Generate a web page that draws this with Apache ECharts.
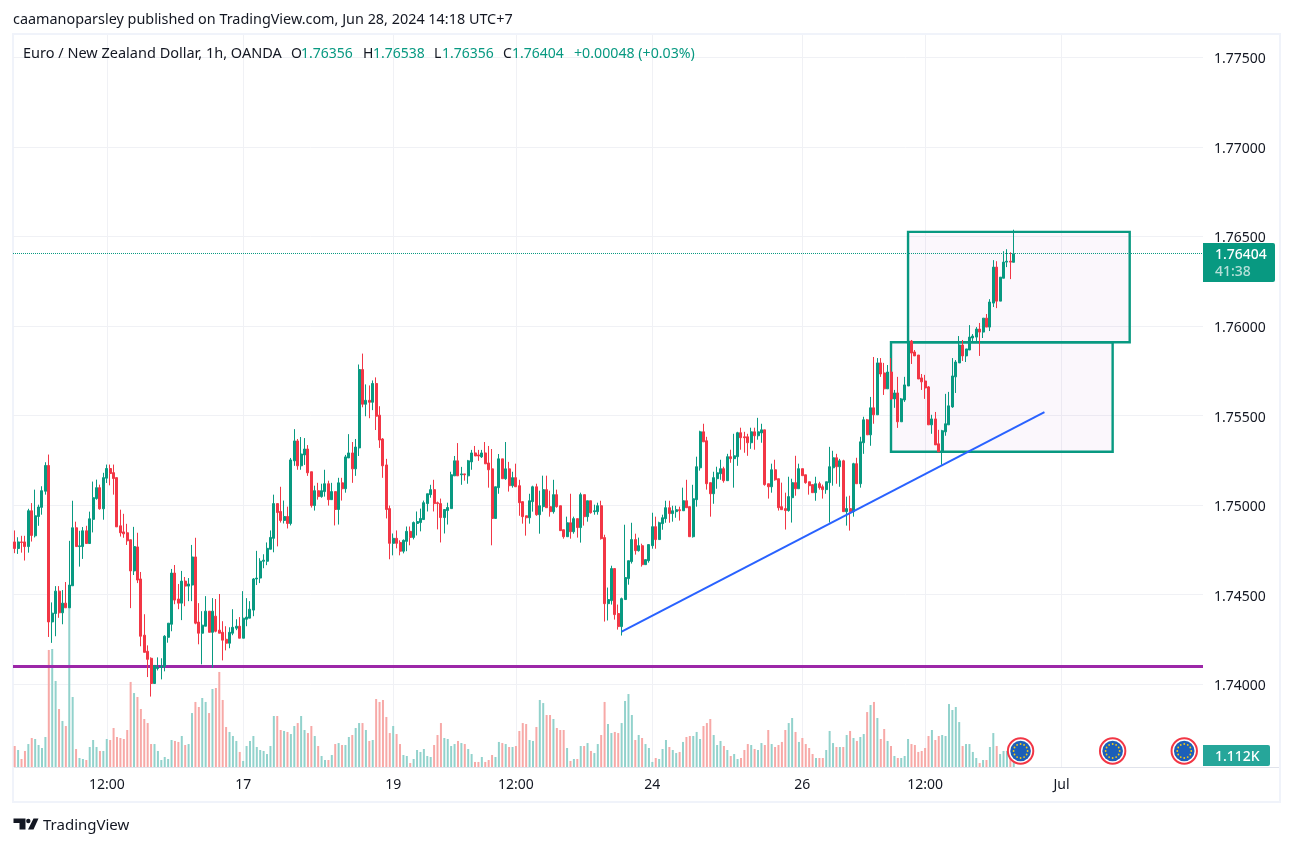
<!DOCTYPE html>
<html>
<head>
<meta charset="utf-8">
<title>EURNZD 1h</title>
<script src="https://cdn.jsdelivr.net/npm/echarts@6/dist/echarts.min.js"></script>
<style>
  html, body { margin: 0; padding: 0; background: #fff; }
  #main { width: 1293px; height: 846px; }
</style>
</head>
<body>
<div id="main"></div>
<script>
// hourly candles
const opens = [
  1.74794,1.74757,1.74794,1.74794,1.74768,1.74968,1.74828,1.74936,1.74987,1.75077,
  1.75221,1.74347,1.74394,1.74519,1.74398,1.74452,1.74426,1.74549,1.74873,1.74768,
  1.74768,1.74856,1.74785,1.74920,1.75036,1.75097,1.74979,1.75150,1.75204,1.75181,
  1.75153,1.74884,1.74850,1.74845,1.74806,1.74632,1.74766,1.74587,1.74273,1.74183,
  1.74144,1.74003,1.74087,1.74093,1.74099,1.74261,1.74334,1.74620,1.74475,1.74452,
  1.74575,1.74547,1.74553,1.74710,1.74346,1.74284,1.74323,1.74407,1.74289,1.74379,
  1.74301,1.74289,1.74250,1.74228,1.74284,1.74312,1.74323,1.74256,1.74362,1.74368,1.74413,1.74587,
  1.74592,1.74686,1.74686,1.74753,1.74814,1.75008,1.74964,1.74914,
  1.74936,1.74897,1.75247,1.75358,1.75219,1.75280,1.75313,1.75186,1.74997,1.75080,
  1.75047,1.75075,1.75119,1.75030,1.75075,1.74975,1.75124,1.75091,1.75263,1.75291,
  1.75202,1.75319,1.75757,1.75563,1.75585,1.75574,1.75679,1.75502,1.75369,1.75224,
  1.74980,1.74786,1.74814,1.74791,1.74742,1.74797,1.74853,1.74819,1.74897,1.74902,
  1.74919,1.75008,1.75058,1.75086,1.75013,1.75008,1.74930,1.74969,1.74980,1.75163,
  1.75247,1.75169,1.75174,1.75163,1.75241,1.75291,1.75280,1.75269,1.75291,1.75235,
  1.75202,1.74925,1.75097,1.75258,1.75147,1.75202,
  1.75108,1.75153,1.75108,1.75019,1.74940,1.74929,1.75019,1.75102,1.74946,1.74991,
  1.75086,1.74991,1.74963,1.75058,1.74996,1.74862,1.74823,1.74901,1.74851,1.74924,
  1.74874,1.75058,1.74935,1.75024,1.74963,1.74963,1.74996,1.74818,1.74449,1.74466,
  1.74645,1.74394,1.74321,1.74472,1.74589,1.74684,1.74807,1.74745,1.74773,1.74667,
  1.74689,1.74773,1.74879,1.74807,1.74896,1.74924,1.74985,1.74952,1.74963,1.74974,
  1.74968,1.75024,1.74991,1.74823,1.75030,1.75208,1.75409,1.75359,1.75125,1.75063,
  1.75147,1.75175,1.75203,1.75136,1.75270,1.75259,1.75270,1.75404,1.75381,1.75381,1.75348,1.75409,1.75387,
  1.75403,1.75420,1.75119,1.75102,1.75197,1.75147,1.74991,1.74980,1.74969,1.75041,
  1.75125,1.75091,1.75203,1.75169,1.75130,1.75114,1.75069,1.75119,1.75102,1.75086,
  1.75125,1.75208,1.75264,1.75214,1.75247,1.74963,1.74980,1.74963,1.75231,1.75119,
  1.75348,1.75476,1.75392,1.75543,1.75504,1.75794,1.75738,1.75649,1.75743,1.75593,
  1.75626,1.75465,1.75587,1.75665,1.75916,1.75855,1.75838,1.75710,1.75693,1.75660,
  1.75448,1.75481,1.75342,1.75297,1.75409,1.75448,1.75548,1.75716,1.75794,1.75894,
  1.75833,1.75866,1.75933,1.75938,1.75983,1.75966,1.76044,1.75994,1.76128,1.76329,
  1.76139,1.76267,1.76357,1.76362,1.76356
];
const closes = [
  1.74757,1.74794,1.74791,1.74768,1.74968,1.74830,1.74940,1.74989,1.75080,1.75221,
  1.74347,1.74396,1.74519,1.74398,1.74452,1.74426,1.74553,1.74873,1.74768,1.74772,
  1.74856,1.74785,1.74923,1.75041,1.75097,1.74979,1.75153,1.75204,1.75176,1.75148,
  1.74878,1.74845,1.74839,1.74800,1.74632,1.74768,1.74581,1.74267,1.74177,1.74138,
  1.74003,1.74104,1.74093,1.74099,1.74267,1.74340,1.74620,1.74469,1.74452,1.74575,
  1.74547,1.74559,1.74710,1.74340,1.74284,1.74329,1.74407,1.74289,1.74407,1.74295,
  1.74284,1.74245,1.74228,1.74289,1.74317,1.74323,1.74256,1.74368,1.74374,1.74418,1.74587,1.74592,
  1.74686,1.74692,1.74758,1.74819,1.75008,1.74958,1.74914,1.74936,
  1.74897,1.75252,1.75358,1.75219,1.75285,1.75313,1.75180,1.74997,1.75080,1.75047,
  1.75080,1.75119,1.75030,1.75075,1.74975,1.75124,1.75091,1.75269,1.75291,1.75202,
  1.75324,1.75757,1.75563,1.75585,1.75574,1.75679,1.75496,1.75363,1.75219,1.74975,
  1.74786,1.74814,1.74786,1.74742,1.74803,1.74853,1.74819,1.74902,1.74908,1.74925,
  1.75013,1.75063,1.75086,1.75008,1.75008,1.74930,1.74975,1.74986,1.75169,1.75247,
  1.75163,1.75174,1.75169,1.75247,1.75291,1.75274,1.75274,1.75291,1.75230,1.75197,
  1.74925,1.75102,1.75258,1.75147,1.75202,1.75108,
  1.75153,1.75102,1.75013,1.74935,1.74929,1.75024,1.75102,1.74946,1.74996,1.75086,
  1.74985,1.74963,1.75058,1.74991,1.74857,1.74823,1.74901,1.74851,1.74924,1.74874,
  1.75058,1.74935,1.75024,1.74957,1.74968,1.74996,1.74812,1.74449,1.74472,1.74645,
  1.74388,1.74321,1.74477,1.74595,1.74689,1.74807,1.74745,1.74773,1.74667,1.74695,
  1.74779,1.74879,1.74807,1.74901,1.74929,1.74985,1.74952,1.74968,1.74974,1.74968,
  1.75024,1.74985,1.74823,1.75035,1.75214,1.75409,1.75353,1.75119,1.75063,1.75153,
  1.75180,1.75203,1.75136,1.75270,1.75259,1.75275,1.75404,1.75376,1.75376,1.75348,1.75409,1.75387,1.75409,
  1.75420,1.75114,1.75102,1.75197,1.75141,1.74985,1.74974,1.74969,1.75047,1.75125,
  1.75091,1.75203,1.75164,1.75125,1.75108,1.75069,1.75119,1.75097,1.75086,1.75130,
  1.75214,1.75264,1.75214,1.75247,1.74963,1.74980,1.74963,1.75231,1.75119,1.75353,
  1.75476,1.75392,1.75543,1.75504,1.75794,1.75732,1.75649,1.75743,1.75593,1.75626,
  1.75465,1.75593,1.75671,1.75916,1.75849,1.75833,1.75704,1.75688,1.75654,1.75448,
  1.75481,1.75336,1.75297,1.75415,1.75454,1.75554,1.75721,1.75799,1.75894,1.75833,
  1.75872,1.75938,1.75944,1.75983,1.75966,1.76044,1.75994,1.76134,1.76329,1.76139,
  1.76273,1.76357,1.76362,1.76357,1.76404
];
const highs = [
  1.74858,1.74820,1.74828,1.74828,1.74979,1.75011,1.75086,1.75002,1.75105,1.75239,
  1.75282,1.74456,1.74547,1.74547,1.74525,1.74570,1.74800,1.75024,1.74907,1.74856,
  1.74877,1.74884,1.74963,1.75131,1.75142,1.75114,1.75180,1.75226,1.75226,1.75226,
  1.75153,1.74974,1.74951,1.74895,1.74806,1.74878,1.74845,1.74626,1.74390,1.74216,
  1.74149,1.74104,1.74149,1.74144,1.74273,1.74340,1.74643,1.74665,1.74559,1.74632,
  1.74598,1.74592,1.74777,1.74817,1.74452,1.74407,1.74491,1.74407,1.74480,1.74475,
  1.74503,1.74351,1.74323,1.74317,1.74418,1.74362,1.74374,1.74519,1.74480,1.74463,1.74592,1.74744,
  1.74703,1.74725,1.74791,1.74858,1.75058,1.75008,1.75102,1.75025,
  1.74991,1.75263,1.75424,1.75369,1.75380,1.75374,1.75335,1.75186,1.75108,1.75124,
  1.75119,1.75197,1.75136,1.75124,1.75075,1.75152,1.75152,1.75280,1.75396,1.75352,
  1.75369,1.75785,1.75846,1.75674,1.75668,1.75696,1.75713,1.75552,1.75374,1.75258,
  1.74997,1.74841,1.74858,1.74803,1.74808,1.74880,1.74880,1.74908,1.74964,1.74980,
  1.75025,1.75063,1.75113,1.75141,1.75019,1.75036,1.74975,1.75013,1.75186,1.75274,
  1.75346,1.75213,1.75174,1.75252,1.75308,1.75330,1.75308,1.75308,1.75352,1.75330,
  1.75313,1.75102,1.75285,1.75258,1.75352,1.75241,
  1.75186,1.75231,1.75141,1.75019,1.74940,1.75063,1.75108,1.75119,1.75080,1.75164,
  1.75164,1.75080,1.75141,1.75086,1.74996,1.74862,1.74935,1.75063,1.74935,1.74924,
  1.75069,1.75058,1.75024,1.75024,1.75002,1.75013,1.75024,1.74834,1.74539,1.74661,
  1.74645,1.74444,1.74483,1.74890,1.74689,1.74901,1.74840,1.74818,1.74784,1.74695,
  1.74779,1.74957,1.74935,1.74907,1.74946,1.75024,1.75024,1.74996,1.74996,1.74991,
  1.75097,1.75141,1.74991,1.75113,1.75270,1.75415,1.75454,1.75381,1.75125,1.75186,
  1.75214,1.75253,1.75214,1.75286,1.75309,1.75398,1.75409,1.75432,1.75409,1.75398,1.75432,1.75432,1.75487,
  1.75454,1.75420,1.75119,1.75231,1.75253,1.75147,1.75125,1.75069,1.75158,1.75147,
  1.75275,1.75231,1.75203,1.75169,1.75130,1.75114,1.75158,1.75130,1.75114,1.75130,
  1.75325,1.75303,1.75286,1.75258,1.75253,1.75047,1.75052,1.75236,1.75264,1.75381,
  1.75493,1.75481,1.75604,1.75827,1.75821,1.75821,1.75794,1.75782,1.75821,1.75643,
  1.75716,1.75598,1.75716,1.75922,1.75922,1.75866,1.75838,1.75732,1.75727,1.75665,
  1.75504,1.75520,1.75420,1.75420,1.75621,1.75632,1.75821,1.75810,1.75944,1.75922,
  1.75872,1.76005,1.75955,1.75994,1.76017,1.76044,1.76067,1.76150,1.76368,1.76362,
  1.76273,1.76418,1.76429,1.76412,1.76538
];
const lows = [
  1.74731,1.74727,1.74734,1.74690,1.74734,1.74796,1.74819,1.74884,1.74946,1.75058,
  1.74263,1.74230,1.74267,1.74370,1.74334,1.74426,1.74426,1.74549,1.74768,1.74656,
  1.74699,1.74785,1.74785,1.74847,1.75030,1.74974,1.74918,1.75123,1.75110,1.75058,
  1.74878,1.74824,1.74817,1.74777,1.74424,1.74609,1.74564,1.74211,1.74177,1.74039,
  1.73930,1.74003,1.74076,1.74026,1.74071,1.74231,1.74295,1.74446,1.74418,1.74357,
  1.74435,1.74463,1.74463,1.74334,1.74222,1.74110,1.74323,1.74289,1.74091,1.74289,
  1.74284,1.74132,1.74188,1.74200,1.74273,1.74301,1.74256,1.74256,1.74323,1.74368,1.74379,1.74553,
  1.74564,1.74647,1.74664,1.74753,1.74736,1.74769,1.74902,1.74897,
  1.74869,1.74886,1.75219,1.75197,1.75197,1.75224,1.75163,1.74986,1.74969,1.75030,
  1.75041,1.75047,1.74997,1.75030,1.74886,1.74891,1.75025,1.75069,1.75263,1.75124,
  1.75163,1.75274,1.75546,1.75496,1.75485,1.75530,1.75419,1.75319,1.75152,1.74925,
  1.74697,1.74719,1.74758,1.74719,1.74730,1.74742,1.74775,1.74808,1.74830,1.74853,
  1.74919,1.74964,1.75041,1.74964,1.74864,1.74791,1.74841,1.74891,1.74980,1.75163,
  1.75163,1.75113,1.75136,1.75119,1.75197,1.75274,1.75247,1.75263,1.75230,1.75097,
  1.74775,1.74925,1.75063,1.75147,1.75141,1.75075,
  1.75097,1.75102,1.74940,1.74896,1.74829,1.74896,1.74963,1.74940,1.74840,1.74963,
  1.74985,1.74935,1.74952,1.74985,1.74857,1.74812,1.74823,1.74812,1.74840,1.74818,
  1.74790,1.74885,1.74907,1.74952,1.74946,1.74946,1.74807,1.74349,1.74355,1.74444,
  1.74360,1.74304,1.74271,1.74472,1.74555,1.74673,1.74723,1.74740,1.74656,1.74667,
  1.74678,1.74756,1.74756,1.74807,1.74862,1.74901,1.74901,1.74907,1.74929,1.74913,
  1.74968,1.74985,1.74823,1.74818,1.74991,1.75192,1.75353,1.75086,1.74935,1.75007,
  1.75091,1.75141,1.75125,1.75136,1.75236,1.75097,1.75219,1.75309,1.75292,1.75275,1.75314,1.75309,1.75365,
  1.75348,1.75108,1.75036,1.75069,1.75136,1.74969,1.74974,1.74863,1.74963,1.74902,
  1.75052,1.75091,1.75164,1.75119,1.75058,1.75069,1.75024,1.75086,1.75036,1.75063,
  1.74902,1.75108,1.75119,1.75102,1.74963,1.74885,1.74857,1.74935,1.75119,1.75097,
  1.75286,1.75392,1.75331,1.75454,1.75504,1.75716,1.75615,1.75649,1.75587,1.75543,
  1.75431,1.75465,1.75576,1.75665,1.75788,1.75833,1.75704,1.75643,1.75593,1.75448,
  1.75398,1.75336,1.75297,1.75225,1.75387,1.75448,1.75543,1.75626,1.75794,1.75805,
  1.75799,1.75866,1.75911,1.75911,1.75833,1.75933,1.75994,1.75972,1.76106,1.76100,
  1.76139,1.76267,1.76329,1.76262,1.76356
];
const volumes = [
  2120,1720,810,1620,2320,2930,2830,2220,1920,3030,
  11820,11920,8690,5860,4650,4140,16160,7070,1820,910,
  810,710,2020,2730,2020,1620,1620,2830,2730,3940,
  3030,2930,2830,3740,8590,7470,7070,5860,4850,4440,
  2320,2320,1620,710,1010,810,2730,2630,2530,3130,
  2220,2320,5450,6570,6060,6970,6570,5450,7880,7980,
  9600,6770,4040,3540,3130,2630,1520,610,2120,2630,
  3130,2020,1720,1620,1310,2120,5150,5150,3740,3640,
  3540,3330,4140,4440,5150,3740,3430,4140,3130,2120,
  1110,710,710,1210,2320,2420,2220,2220,3030,3230,
  3940,4440,4440,3740,2630,2730,6870,6570,6770,5050,
  3430,4140,3330,2320,1210,1110,400,810,1720,1520,
  1820,1110,1010,2220,3230,4440,2930,2830,2120,2320,
  2630,2420,2320,1820,1310,510,510,1010,510,710,
  1210,1010,2530,2420,2320,2020,2020,2120,3640,4440,
  4340,2730,2630,4040,6770,6460,5250,5250,4850,3940,
  3740,3740,1920,610,810,810,2120,2120,2420,1620,
  1410,2320,3230,6570,4340,3430,3540,3430,4440,6670,
  7370,5250,2730,3230,2930,2320,1920,510,910,810,
  1820,2730,2020,1720,1410,1520,2530,3030,3130,3130,
  3540,2830,4140,4440,4850,3230,2220,2630,2120,1720,
  1110,1310,810,910,1720,2320,2220,1820,1720,2420,
  2220,3740,2320,2020,2220,2530,3740,4440,4950,3540,
  2530,2930,2320,1920,1310,910,910,910,1720,3640,
  2420,2020,2020,2020,3230,3640,2930,2630,3030,3330,
  5550,6260,6570,4950,2830,3840,2630,2120,1110,910,
  910,1110,2830,2320,2220,1520,1620,1920,3130,3740,
  2730,3130,3230,3130,6360,5760,6060,4540,2120,2320,
  2320,1520,910,400,710,710,2020,3430,2120,1310,
  1620,1620,1110,1112
];
const timeTickIndex = [27, 67, 111, 147, 187, 231, 267, 307];
const timeTickLabels = ['12:00', '17', '19', '12:00', '24', '26', '12:00', 'Jul'];
const newsIndex = [295, 322, 343];
const barSlots = 349; // bars plus the empty space on the right

const supportLevel = 1.74099;
const lastPrice = 1.76404;
const trendLine = [[178, 1.74293], [302, 1.75519]];
const boxLower = [[257, 1.75909], [322, 1.75298]];
const boxUpper = [[262, 1.76526], [327, 1.75909]];

const UP = '#089981';
const DOWN = '#f23645';
const FONT = '"Noto Sans", sans-serif';

const categories = [];
for (let i = 0; i < barSlots; i++) {
  const k = timeTickIndex.indexOf(i);
  categories.push(k >= 0 ? timeTickLabels[k] : '');
}
const candleData = opens.map((o, i) => [o, closes[i], lows[i], highs[i]]);
const volumeData = volumes.map((v, i) => ({
  value: v,
  itemStyle: { color: closes[i] >= opens[i] ? '#92d2cc' : '#f7a9a7' }
}));
const isTick = (i) => timeTickIndex.indexOf(i) >= 0;

// little EU flag markers sitting on the time axis
function renderNews(params, api) {
  const p = api.coord([api.value(0), api.value(1)]);
  const children = [
    { type: 'circle', shape: { cx: p[0], cy: p[1], r: 12.7 }, style: { fill: '#fff', stroke: '#f23645', lineWidth: 2 } },
    { type: 'circle', shape: { cx: p[0], cy: p[1], r: 10.3 }, style: { fill: '#1c5fb8' } }
  ];
  for (let i = 0; i < 12; i++) {
    const a = i * Math.PI / 6;
    children.push({
      type: 'circle',
      shape: { cx: p[0] + 7 * Math.cos(a), cy: p[1] + 7 * Math.sin(a), r: 0.9 },
      style: { fill: '#f5c916' }
    });
  }
  return { type: 'group', children: children };
}

const boxStyle = { color: 'rgba(156,39,176,0.04)', borderColor: UP, borderWidth: 2.4 };
function boxData(b) {
  return [{ coord: b[0], itemStyle: boxStyle }, { coord: b[1] }];
}

// one text piece of the header row
function headText(x, y, text, fill, size) {
  return {
    type: 'text', x: x, y: y, z: 6, silent: true,
    style: { text: text, fill: fill, font: size + 'px ' + FONT, verticalAlign: 'middle' }
  };
}

const chart = echarts.init(document.getElementById('main'), null, { renderer: 'canvas' });
chart.setOption({
  animation: false,
  backgroundColor: '#ffffff',
  textStyle: { fontFamily: FONT },
  grid: [
    { left: 13, width: 1190, top: 39.6, height: 733.95 }, // price
    { left: 13, width: 1190, top: 35, height: 732 }        // volume, time axis
  ],
  xAxis: [
    { type: 'category', gridIndex: 0, data: categories, show: false },
    {
      type: 'category',
      gridIndex: 1,
      data: categories,
      axisLine: { show: false },
      axisTick: { show: false },
      axisLabel: {
        interval: (i) => isTick(i),
        color: '#131722',
        fontSize: 14,
        margin: 11,
        fontFamily: FONT
      },
      splitLine: {
        show: true,
        interval: (i) => isTick(i),
        alignWithLabel: true,
        lineStyle: { color: '#f0f1f5', width: 1 }
      }
    }
  ],
  yAxis: [
    {
      type: 'value',
      gridIndex: 0,
      position: 'right',
      min: 1.735,
      max: 1.776,
      interval: 0.005,
      axisLine: { show: false },
      axisTick: { show: false },
      axisLabel: {
        color: '#131722',
        fontSize: 14,
        margin: 11,
        verticalAlign: 'top',
        lineHeight: 4,
        fontFamily: FONT,
        showMinLabel: false,
        showMaxLabel: false,
        formatter: (v) => v.toFixed(5)
      },
      splitLine: {
        show: true,
        showMinLine: false,
        showMaxLine: false,
        lineStyle: { color: '#f0f1f5', width: 1 }
      }
    },
    { type: 'value', gridIndex: 1, min: 0, max: 73930, show: false, splitLine: { show: false } }
  ],
  series: [
    {
      name: 'Volume',
      type: 'bar',
      xAxisIndex: 1,
      yAxisIndex: 1,
      barWidth: 2,
      z: 1,
      data: volumeData
    },
    {
      name: 'EURNZD',
      type: 'candlestick',
      xAxisIndex: 0,
      yAxisIndex: 0,
      barWidth: 2.5,
      z: 3,
      itemStyle: { color: UP, color0: DOWN, borderColor: UP, borderColor0: DOWN, borderWidth: 1 },
      data: candleData,
      markArea: {
        silent: true,
        z: 2,
        data: [boxData(boxLower), boxData(boxUpper)]
      },
      markLine: {
        silent: true,
        symbol: 'none',
        precision: 5,
        label: { show: false },
        z: 2,
        data: [
          { yAxis: supportLevel, lineStyle: { color: '#9c27a8', width: 3, type: 'solid' } },
          { yAxis: lastPrice, lineStyle: { color: UP, width: 1, type: 'dotted' } }
        ]
      }
    },
    {
      name: 'Trend',
      type: 'line',
      xAxisIndex: 0,
      yAxisIndex: 0,
      data: trendLine,
      symbol: 'none',
      z: 4,
      lineStyle: { color: '#2962ff', width: 2 }
    },
    {
      name: 'News',
      type: 'custom',
      xAxisIndex: 1,
      yAxisIndex: 1,
      z: 5,
      renderItem: renderNews,
      data: newsIndex.map((i) => [i, 1616])
    }
  ],
  graphic: [
    { type: 'rect', z: 0, silent: true, shape: { x: 13, y: 34, width: 1267, height: 768 }, style: { fill: 'none', stroke: '#f0f3fa', lineWidth: 2 } },
    { type: 'line', z: 6, silent: true, shape: { x1: 14, y1: 767.5, x2: 1279, y2: 767.5 }, style: { stroke: '#e0e3eb', lineWidth: 1 } },
    headText(13, 20, 'caamanoparsley published on TradingView.com, Jun 28, 2024 14:18 UTC+7', '#131722', 14.4),
    headText(23, 54, 'Euro / New Zealand Dollar, 1h, OANDA', '#131722', 14.5),
    headText(291, 54, 'O', '#131722', 14),
    headText(301, 54, '1.76356', UP, 14),
    headText(363, 54, 'H', '#131722', 14),
    headText(373, 54, '1.76538', UP, 14),
    headText(434, 54, 'L', '#131722', 14),
    headText(442, 54, '1.76356', UP, 14),
    headText(503, 54, 'C', '#131722', 14),
    headText(512, 54, '1.76404', UP, 14),
    headText(574, 54, '+0.00048 (+0.03%)', UP, 14.2),
    { type: 'rect', z: 7, silent: true, shape: { x: 1203, y: 243, width: 72, height: 39, r: [0, 2, 2, 0] }, style: { fill: UP } },
    { type: 'text', x: 1215, y: 255, z: 8, silent: true, style: { text: '1.76404', fill: '#ffffff', font: '500 14px ' + FONT, verticalAlign: 'middle' } },
    { type: 'text', x: 1215, y: 272, z: 8, silent: true, style: { text: '41:38', fill: '#b5e0d9', font: '500 14px ' + FONT, verticalAlign: 'middle' } },
    { type: 'rect', z: 7, silent: true, shape: { x: 1203, y: 745, width: 67, height: 21, r: [0, 2, 2, 0] }, style: { fill: '#26a69a' } },
    { type: 'text', x: 1215, y: 757, z: 8, silent: true, style: { text: '1.112K', fill: '#ffffff', font: '500 14px ' + FONT, verticalAlign: 'middle' } },
    // TradingView logo
    { type: 'polygon', z: 6, silent: true, shape: { points: [[13.5, 818.5], [25.5, 818.5], [25.5, 829.5], [19.5, 829.5], [19.5, 823], [13.5, 823]] }, style: { fill: '#131722' } },
    { type: 'circle', z: 6, silent: true, shape: { cx: 28.3, cy: 821, r: 2.2 }, style: { fill: '#131722' } },
    { type: 'polygon', z: 6, silent: true, shape: { points: [[33.5, 818.5], [38.5, 818.5], [33.5, 829.5], [28, 829.5]] }, style: { fill: '#131722' } },
    { type: 'text', x: 43, y: 826, z: 6, silent: true, style: { text: 'TradingView', fill: '#131722', font: '15px ' + FONT, verticalAlign: 'middle' } }
  ]
});
</script>
</body>
</html>
